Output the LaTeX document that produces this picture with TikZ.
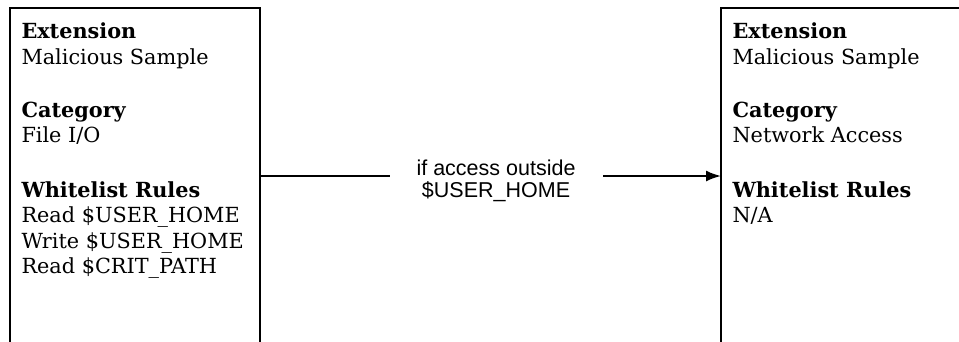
\documentclass[tikz,border=0pt]{standalone}
\usepackage{fontspec}
\setmainfont{DejaVu Serif}
\newfontfamily\condfont{Liberation Sans}
\usetikzlibrary{arrows.meta}
\begin{document}
\begin{tikzpicture}[x=1pt,y=-1pt,
  card/.style={draw, line width=2pt, rectangle, minimum height=336pt,
    inner sep=0pt, outer sep=0pt, anchor=north west},
  cardtext/.style={align=left, anchor=north west, inner sep=0pt, outer sep=0pt,
    font=\fontsize{20.8}{25.5}\selectfont},
  flow/.style={line width=2pt, -{Latex[length=15pt,width=11pt]}},
  cond/.style={fill=white, inner xsep=27pt, inner ysep=4pt, align=center,
    font=\condfont\fontsize{21.5}{22.5}\selectfont}]
\useasboundingbox (0,0) rectangle (959,341);
\clip (0,0) rectangle (959,341);

% the two extension cards; both run past the lower (and right) edge
\node[card, minimum width=250pt] (src) at (10,8) {};
\node[card, minimum width=300pt] (dst) at (721,8) {};

\node[cardtext] (srctext) at (21.5,23) {%
  \textbf{Extension}\\ Malicious Sample\\[27.5pt]
  \textbf{Category}\\ File I/O\\[29pt]
  \textbf{Whitelist Rules}\\ Read \$USER\_HOME\\ Write \$USER\_HOME\\ Read \$CRIT\_PATH};

\node[cardtext] (dsttext) at (732.5,23) {%
  \textbf{Extension}\\ Malicious Sample\\[27.5pt]
  \textbf{Category}\\ Network Access\\[29pt]
  \textbf{Whitelist Rules}\\ N/A};

% escalation edge
\draw[flow] (src.east) -- node[cond, pos=0.512, yshift=-5pt] {if access outside\\\$USER\_HOME} (dst.west);
\end{tikzpicture}
\end{document}
